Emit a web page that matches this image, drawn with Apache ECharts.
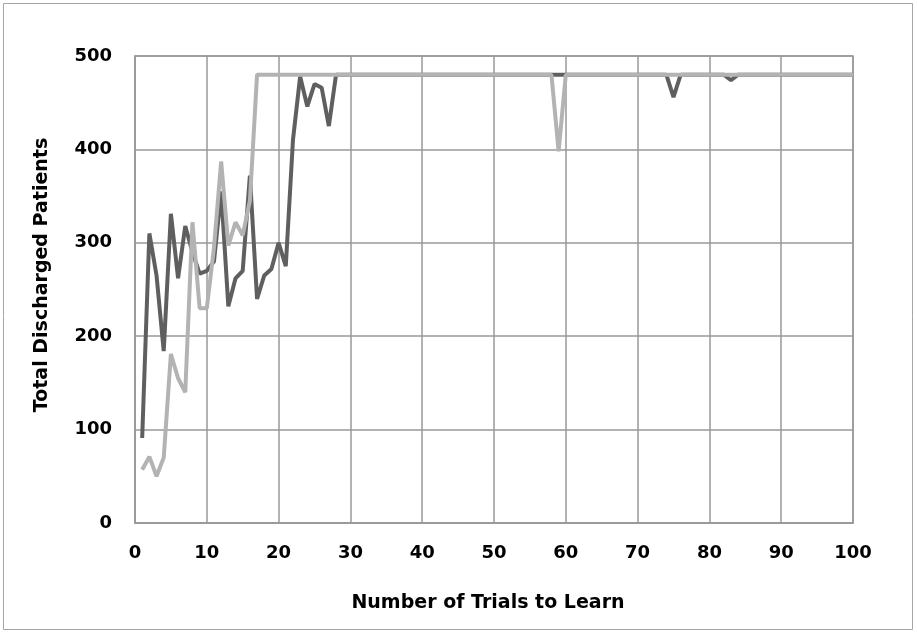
<!DOCTYPE html>
<html>
<head>
<meta charset="utf-8">
<script src="https://cdn.jsdelivr.net/npm/echarts@6/dist/echarts.min.js"></script>
<style>
html,body{margin:0;padding:0;background:#fff;}
#c{width:917px;height:633px;}
</style>
</head>
<body>
<div id="c"></div>
<script>
var trials = [1,2,3,4,5,6,7,8,9,10,11,12,13,14,15,16,17,18,19,20,
21,22,23,24,25,26,27,28,29,30,31,32,33,34,35,36,37,38,39,40,
41,42,43,44,45,46,47,48,49,50,51,52,53,54,55,56,57,58,59,60,
61,62,63,64,65,66,67,68,69,70,71,72,73,74,75,76,77,78,79,80,
81,82,83,84,85,86,87,88,89,90,91,92,93,94,95,96,97,98,99,100];

var darkSeries = [91,310,265,184,331,262,318,290,267,270,
280,355,232,262,270,372,240,265,272,300,
275,410,478,446,470,466,425,480,480,480,
480,480,480,480,480,480,480,480,480,480,
480,480,480,480,480,480,480,480,480,480,
480,480,480,480,480,480,480,480,480,480,
480,480,480,480,480,480,480,480,480,480,
480,480,480,480,456,480,480,480,480,480,
480,480,474,480,480,480,480,480,480,480,
480,480,480,480,480,480,480,480,480,480];

var lightSeries = [57,71,50,70,181,155,140,322,230,230,
295,387,297,322,308,345,480,480,480,480,
480,480,480,480,480,480,480,480,480,480,
480,480,480,480,480,480,480,480,480,480,
480,480,480,480,480,480,480,480,480,480,
480,480,480,480,480,480,480,480,398,480,
480,480,480,480,480,480,480,480,480,480,
480,480,480,480,480,480,480,480,480,480,
480,480,480,480,480,480,480,480,480,480,
480,480,480,480,480,480,480,480,480,480];

var xTicks = {min: 0, max: 100, interval: 10};
var yTicks = {min: 0, max: 500, interval: 100};
var xTitle = 'Number of Trials to Learn';
var yTitle = 'Total Discharged Patients';

function pairs(xs, ys){ return xs.map(function(x,i){ return [x, ys[i]]; }); }

var chart = echarts.init(document.getElementById('c'), null, {renderer:'canvas'});
var font = 'DejaVu Sans, Liberation Sans, Arial, sans-serif';
chart.setOption({
  animation: false,
  backgroundColor: '#fff',
  graphic: [{
    type: 'rect', shape: {x: 3.5, y: 3.5, width: 909, height: 626},
    style: {fill: 'none', stroke: '#a6a6a6', lineWidth: 1}, silent: true
  }, {
    type: 'text', x: 42, y: 275, rotation: Math.PI / 2, silent: true,
    style: {text: yTitle, font: 'bold 19px ' + font, fill: '#000', align: 'center', verticalAlign: 'middle'}
  }],
  grid: {left: 135, right: 64, top: 56, bottom: 110, show: true, borderColor: '#999', borderWidth: 1.5},
  xAxis: {
    type: 'value', min: xTicks.min, max: xTicks.max, interval: xTicks.interval,
    name: xTitle, nameLocation: 'middle', nameGap: 71,
    nameTextStyle: {fontFamily: font, fontWeight: 'bold', fontSize: 19, color: '#000', padding: [0, 12, 0, 0]},
    axisLine: {show: true, lineStyle: {color: '#999', width: 1.5}},
    axisTick: {show: false},
    axisLabel: {fontFamily: font, fontWeight: 'bold', fontSize: 18, color: '#000', margin: 21},
    splitLine: {show: true, lineStyle: {color: '#999', width: 1.5}}
  },
  yAxis: {
    type: 'value', min: yTicks.min, max: yTicks.max, interval: yTicks.interval,
    axisLine: {show: true, lineStyle: {color: '#999', width: 1.5}},
    axisTick: {show: false},
    axisLabel: {fontFamily: font, fontWeight: 'bold', fontSize: 18, color: '#000', margin: 23},
    splitLine: {show: true, lineStyle: {color: '#999', width: 1.5}}
  },
  series: [
    {type: 'line', data: pairs(trials, darkSeries), showSymbol: false, symbol: 'none',
     lineStyle: {color: '#5f5f5f', width: 4}, z: 2},
    {type: 'line', data: pairs(trials, lightSeries), showSymbol: false, symbol: 'none',
     lineStyle: {color: '#b3b3b3', width: 4}, z: 3}
  ]
});
</script>
</body>
</html>
